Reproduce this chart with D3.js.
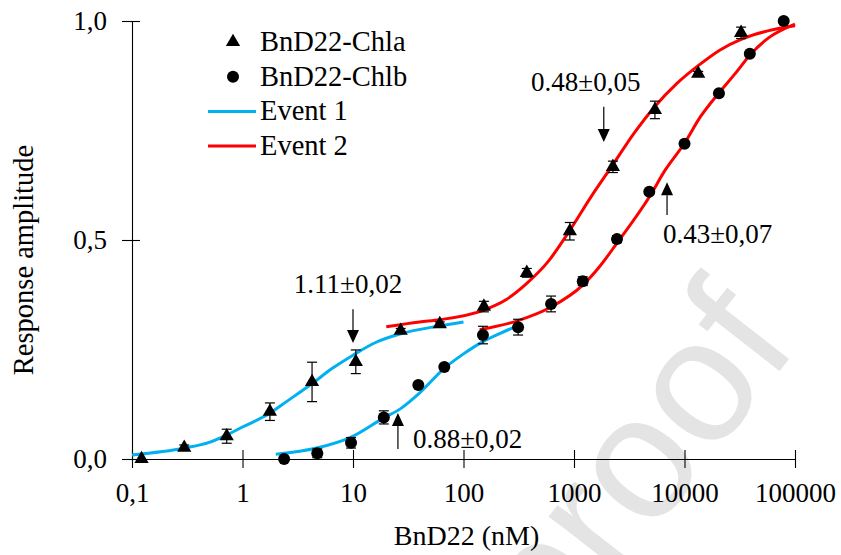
<!DOCTYPE html>
<html>
<head>
<meta charset="utf-8">
<script src="https://cdn.jsdelivr.net/npm/d3@7"></script>
<style>
  html, body { margin: 0; padding: 0; background: #fff; }
  svg text { font-family: "Liberation Serif", "Times New Roman", serif; fill: #000; }
</style>
</head>
<body>
<div id="chart"></div>
<script>
// measured points, BnD22 concentration (nM) vs response amplitude
const chlaX = [0.122, 0.297, 0.72, 1.77, 4.26, 10.6, 27, 61, 153, 374, 917, 2250, 5400, 13300, 32500];
const chlaY = [0.0, 0.026, 0.052, 0.108, 0.176, 0.222, 0.293, 0.308, 0.348, 0.425, 0.52, 0.667, 0.797, 0.88, 0.973];
const chlaErr = [0, 0.006, 0.016, 0.02, 0.045, 0.027, 0.005, 0.005, 0.012, 0.01, 0.02, 0.013, 0.02, 0.005, 0.013];

const chlbX = [2.38, 4.75, 9.6, 19, 39, 67, 150, 312, 620, 1200, 2450, 4800, 10000, 20500, 39000, 79000];
const chlbY = [0.0, 0.013, 0.037, 0.095, 0.169, 0.21, 0.283, 0.301, 0.354, 0.406, 0.502, 0.61, 0.72, 0.835, 0.925, 1.0];
const chlbErr = [0, 0.01, 0.012, 0.015, 0, 0, 0.02, 0.018, 0.018, 0.01, 0.008, 0.005, 0.005, 0.005, 0.005, 0.005];

// fitted curves
const ev1aX = [0.1, 0.3, 0.5, 0.72, 1, 1.78, 2.5, 4.3, 6.5, 10, 16, 27, 61, 100];
const ev1aY = [0.009, 0.025, 0.038, 0.055, 0.073, 0.105, 0.131, 0.173, 0.207, 0.237, 0.266, 0.286, 0.304, 0.313];
const ev2aX = [20, 40, 61, 153, 240, 374, 580, 917, 1430, 2250, 3500, 5400, 8500, 13300, 21000, 32500, 58000, 100000];
const ev2aY = [0.302, 0.313, 0.318, 0.34, 0.363, 0.401, 0.45, 0.522, 0.599, 0.672, 0.744, 0.805, 0.857, 0.898, 0.934, 0.958, 0.978, 0.989];
const ev1bX = [2, 4.7, 9.6, 19, 27, 39, 67, 100, 150, 220, 300];
const ev1bY = [0.011, 0.025, 0.05, 0.094, 0.115, 0.148, 0.207, 0.24, 0.268, 0.288, 0.303];
const ev2bX = [140, 312, 620, 1200, 1700, 2450, 4800, 6700, 10000, 13900, 20500, 29000, 39000, 58000, 100000];
const ev2bY = [0.295, 0.316, 0.347, 0.397, 0.439, 0.493, 0.598, 0.66, 0.721, 0.781, 0.836, 0.881, 0.922, 0.962, 0.993];

const xTicks = [0.1, 1, 10, 100, 1000, 10000, 100000];
const yTicks = [0, 0.5, 1];

const legendLabels = ['BnD22-Chla', 'BnD22-Chlb', 'Event 1', 'Event 2'];

// annotations: label, arrow x, arrow tip y, arrow tail y (data units)
const noteLabels = ['1.11\u00b10,02', '0.48\u00b10,05', '0.43\u00b10,07', '0.88\u00b10,02'];
const noteX = [10, 1860, 6950, 25.5];
const noteTip = [0.265, 0.724, 0.632, 0.105];
const noteTail = [0.342, 0.804, 0.557, 0.023];

const w = 841;
const h = 555;
const padding = { top: 21, right: 46, bottom: 96, left: 132 };

const blue = '#00b0f0';
const red = '#ff0000';

const svg = d3.select('#chart').append('svg')
  .attr('width', w)
  .attr('height', h);

// watermark from the source page
svg.append('text')
  .attr('transform', 'translate(800,345) rotate(-52)')
  .attr('text-anchor', 'end')
  .style('font-family', '"Liberation Sans", Arial, sans-serif')
  .style('font-size', '175px')
  .style('fill', '#e4e4e4')
  .text('Journal Pre-proof');

const xScale = d3.scaleLog()
  .domain([0.1, 100000])
  .range([padding.left, w - padding.right]);

const yScale = d3.scaleLinear()
  .domain([0, 1])
  .range([h - padding.bottom, padding.top]);

const xAxis = d3.axisBottom(xScale)
  .tickValues(xTicks)
  .tickSizeOuter(0)
  .tickFormat(d => d < 1 ? '0,1' : d3.format('d')(d));

const yAxis = d3.axisLeft(yScale)
  .tickValues(yTicks)
  .tickSizeOuter(0)
  .tickFormat(d => d3.format('.1f')(d).replace('.', ','));

const gx = svg.append('g')
  .attr('transform', 'translate(0,' + (h - padding.bottom) + ')')
  .call(xAxis);
gx.selectAll('.tick line').attr('y1', -9).attr('y2', 9);
gx.selectAll('.tick text').attr('y', 43).attr('dy', 0);

const gy = svg.append('g')
  .attr('transform', 'translate(' + padding.left + ',0)')
  .call(yAxis);
gy.selectAll('.tick line').attr('x1', -10).attr('x2', 8);
gy.selectAll('.tick text').attr('x', -25).attr('dy', '0.33em');

svg.selectAll('.domain, .tick line').attr('stroke', '#000').attr('stroke-width', 1.1);
svg.selectAll('.tick text')
  .style('font-family', '"Liberation Serif", "Times New Roman", serif')
  .style('font-size', '27px')
  .attr('fill', '#000');

svg.append('text')
  .attr('x', (padding.left + w - padding.right) / 2 + 3)
  .attr('y', h - 10)
  .attr('text-anchor', 'middle')
  .style('font-size', '28px')
  .text('BnD22 (nM)');

svg.append('text')
  .attr('transform', 'rotate(-90)')
  .attr('x', -260)
  .attr('y', 33)
  .attr('text-anchor', 'middle')
  .style('font-size', '28.5px')
  .text('Response amplitude');

// fitted curves
const line = d3.line()
  .x(d => xScale(d[0]))
  .y(d => yScale(d[1]))
  .curve(d3.curveMonotoneX);

const curves = [
  [ev1aX, ev1aY, blue],
  [ev1bX, ev1bY, blue],
  [ev2aX, ev2aY, red],
  [ev2bX, ev2bY, red]
];

curves.forEach(function (c) {
  svg.append('path')
    .datum(c[0].map((x, i) => [x, c[1][i]]))
    .attr('d', line)
    .attr('fill', 'none')
    .attr('stroke', c[2])
    .attr('stroke-width', 3);
});

// error bars
function errorBars(xs, ys, es) {
  const g = svg.append('g').attr('stroke', '#000').attr('stroke-width', 1.2);
  xs.forEach(function (x, i) {
    if (es[i] <= 0) return;
    const cx = xScale(x);
    const y0 = yScale(ys[i] - es[i]);
    const y1 = yScale(ys[i] + es[i]);
    g.append('line').attr('x1', cx).attr('x2', cx).attr('y1', y0).attr('y2', y1);
    g.append('line').attr('x1', cx - 5).attr('x2', cx + 5).attr('y1', y0).attr('y2', y0);
    g.append('line').attr('x1', cx - 5).attr('x2', cx + 5).attr('y1', y1).attr('y2', y1);
  });
}
errorBars(chlaX, chlaY, chlaErr);
errorBars(chlbX, chlbY, chlbErr);

const tri = d3.symbol().type(d3.symbolTriangle).size(88);

svg.append('g').selectAll('path')
  .data(chlaX.map((x, i) => [x, chlaY[i]]))
  .enter().append('path')
  .attr('d', tri)
  .attr('transform', d => 'translate(' + xScale(d[0]) + ',' + yScale(d[1]) + ')')
  .attr('fill', '#000');

svg.append('g').selectAll('circle')
  .data(chlbX.map((x, i) => [x, chlbY[i]]))
  .enter().append('circle')
  .attr('cx', d => xScale(d[0]))
  .attr('cy', d => yScale(d[1]))
  .attr('r', 6)
  .attr('fill', '#000');

// annotations with arrows
const arrowHead = 13;
noteLabels.forEach(function (label, i) {
  const ax = xScale(noteX[i]);
  const tip = yScale(noteTip[i]);
  const tail = yScale(noteTail[i]);
  const dir = tip > tail ? 1 : -1;
  svg.append('line')
    .attr('x1', ax).attr('x2', ax)
    .attr('y1', tail).attr('y2', tip - dir * arrowHead)
    .attr('stroke', '#000').attr('stroke-width', 1.2);
  svg.append('path')
    .attr('d', 'M' + (ax - 6) + ',' + (tip - dir * arrowHead) + 'L' + (ax + 6) + ',' + (tip - dir * arrowHead) + 'L' + ax + ',' + tip + 'Z')
    .attr('fill', '#000');
});

const noteText = svg.append('g').style('font-size', '27px');
noteText.append('text').attr('x', xScale(noteX[0]) - 5).attr('y', yScale(noteTail[0]) - 16)
  .attr('text-anchor', 'middle').text(noteLabels[0]);
noteText.append('text').attr('x', xScale(noteX[1]) - 18).attr('y', yScale(noteTail[1]) - 16)
  .attr('text-anchor', 'middle').text(noteLabels[1]);
noteText.append('text').attr('x', xScale(noteX[2]) - 4).attr('y', yScale(noteTail[2]) + 28)
  .attr('text-anchor', 'start').text(noteLabels[2]);
noteText.append('text').attr('x', xScale(noteX[3]) + 15).attr('y', yScale(noteTail[3]) - 1)
  .attr('text-anchor', 'start').text(noteLabels[3]);

// legend
const legend = svg.append('g').attr('transform', 'translate(233,42)');
legendLabels.forEach(function (label, i) {
  const row = legend.append('g').attr('transform', 'translate(0,' + (i * 34.7) + ')');
  if (i === 0) {
    row.append('path').attr('d', tri).attr('fill', '#000');
  } else if (i === 1) {
    row.append('circle').attr('r', 6).attr('fill', '#000');
  } else {
    row.append('line').attr('x1', -25).attr('x2', 23).attr('y1', 0).attr('y2', 0)
      .attr('stroke', i === 2 ? blue : red).attr('stroke-width', 3);
  }
  row.append('text')
    .attr('x', 27)
    .attr('y', 9)
    .style('font-size', '28.5px')
    .text(label);
});
</script>
</body>
</html>
